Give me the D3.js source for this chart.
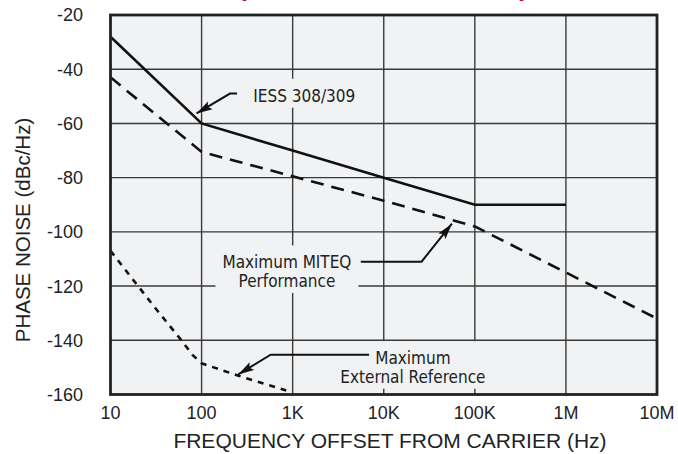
<!DOCTYPE html>
<html>
<head>
<meta charset="utf-8">
<script src="https://cdn.jsdelivr.net/npm/d3@7"></script>
<style>
  body { margin:0; background:#fff; }
  svg { display:block; }
  text { font-family: "Liberation Sans", Arial, sans-serif; fill:#222; }
  .note { font-family: "Liberation Sans Narrow", "DejaVu Sans Condensed", sans-serif; }
</style>
</head>
<body>
<div id="chart"></div>
<script>
// axis ticks
const freqTicks = [10, 100, 1e3, 1e4, 1e5, 1e6, 1e7];
const freqLabels = ["10", "100", "1K", "10K", "100K", "1M", "10M"];
const noiseTicks = [-20, -40, -60, -80, -100, -120, -140, -160];

// IESS 308/309 limit (solid)
const iessFreq  = [10, 100, 1e3, 1e4, 1e5, 1e6];
const iessNoise = [-28, -60, -70, -80, -90, -90];

// Maximum MITEQ performance (long dash)
const miteqFreq  = [10, 100, 1e3, 1e4, 1e5, 1e6, 1e7];
const miteqNoise = [-43, -70.5, -79.5, -88.5, -98, -115, -132];

// Maximum external reference (short dash)
const extFreq  = [10, 30, 60, 80, 100, 250, 850];
const extNoise = [-107, -127.5, -140, -145.5, -148.5, -153, -158.5];

const W = 678, H = 454;
const x = d3.scaleLog().domain([10, 1e7]).range([110.5, 657]);
const y = d3.scaleLinear().domain([-160, -20]).range([394.5, 15]);

const svg = d3.select("#chart").append("svg")
  .attr("width", W).attr("height", H);

// title sits above the picture, only the bracket tails show
svg.append("text")
  .attr("x", 238).attr("y", -3)
  .attr("textLength", 290).attr("lengthAdjust", "spacingAndGlyphs")
  .style("font-size", "20px").style("font-weight", "bold").style("fill", "#b8123a")
  .text("(PHASE NOISE LIMITS)");

svg.append("rect")
  .attr("x", x(10)).attr("y", y(-20))
  .attr("width", x(1e7) - x(10)).attr("height", y(-160) - y(-20))
  .attr("fill", "#f1f2f4");

// grid
const grid = svg.append("g").attr("stroke", "#3a3a3a").attr("stroke-width", 1.4);
grid.selectAll(".vx").data(freqTicks.slice(1, -1)).enter().append("line")
  .attr("x1", d => x(d)).attr("x2", d => x(d))
  .attr("y1", y(-20)).attr("y2", y(-160));
grid.selectAll(".hy").data(noiseTicks.slice(1, -1)).enter().append("line")
  .attr("x1", x(10)).attr("x2", x(1e7))
  .attr("y1", d => y(d)).attr("y2", d => y(d));

// curves
const line = d3.line().x(d => x(d[0])).y(d => y(d[1]));
const plot = svg.append("g").attr("fill", "none").attr("stroke", "#111").attr("stroke-width", 2.6);
plot.append("path").datum(d3.zip(iessFreq, iessNoise)).attr("d", line);
plot.append("path").datum(d3.zip(miteqFreq, miteqNoise)).attr("d", line)
  .attr("stroke-dasharray", "13,8");
plot.append("path").datum(d3.zip(extFreq, extNoise)).attr("d", line)
  .attr("stroke-dasharray", "6,6");

// annotations (points in data units)
const notes = [
  { lines: ["IESS  308/309"], at: [370, -52], anchor: "start",
    leader: [[245, -49], [205, -49], [88, -56.3]] },
  { lines: ["Maximum MITEQ", "Performance"], at: [865, -113.5], anchor: "middle",
    leader: [[5600, -111], [26000, -111], [56000, -97]] },
  { lines: ["Maximum", "External  Reference"], at: [20900, -148.8], anchor: "middle",
    leader: [[6900, -145.3], [573, -145.3], [253, -152.6]] }
];

svg.append("defs").append("marker")
  .attr("id", "arr").attr("viewBox", "0 0 16 10")
  .attr("refX", 16).attr("refY", 5)
  .attr("markerWidth", 16).attr("markerHeight", 10)
  .attr("markerUnits", "userSpaceOnUse").attr("orient", "auto")
  .append("path").attr("d", "M0,0.5 L16,5 L0,9.5 L3,5 Z").attr("fill", "#111");

notes.forEach(n => {
  const g = svg.append("g");
  const bg = g.append("rect").attr("fill", "#f1f2f4");
  const t = g.append("text").attr("class", "note")
    .attr("text-anchor", n.anchor)
    .style("font-size", "17px");
  n.lines.forEach((s, i) => {
    t.append("tspan").attr("x", x(n.at[0])).attr("y", y(n.at[1]) + i * 18.5).text(s);
  });
  const b = t.node().getBBox();
  bg.attr("x", b.x - 7).attr("y", b.y - 7).attr("width", b.width + 14).attr("height", b.height + 9);
  svg.append("path")
    .attr("d", d3.line()(n.leader.map(p => [x(p[0]), y(p[1])])))
    .attr("fill", "none").attr("stroke", "#111").attr("stroke-width", 2)
    .attr("marker-end", "url(#arr)");
});

// frame
svg.append("rect")
  .attr("x", x(10)).attr("y", y(-20))
  .attr("width", x(1e7) - x(10)).attr("height", y(-160) - y(-20))
  .attr("fill", "none").attr("stroke", "#222").attr("stroke-width", 2.8);

// axis labels
svg.selectAll(".xt").data(freqTicks).enter().append("text")
  .attr("x", d => x(d)).attr("y", 419)
  .attr("text-anchor", "middle").style("font-size", "18px")
  .text((d, i) => freqLabels[i]);

svg.selectAll(".yt").data(noiseTicks).enter().append("text")
  .attr("x", 83).attr("y", d => y(d)).attr("dy", "0.36em")
  .attr("text-anchor", "end").style("font-size", "18px")
  .text(d => d);

svg.append("text")
  .attr("x", 390).attr("y", 448)
  .attr("text-anchor", "middle").style("font-size", "21px")
  .text("FREQUENCY OFFSET FROM CARRIER (Hz)");

svg.append("text")
  .attr("transform", "translate(30,230) rotate(-90)")
  .attr("text-anchor", "middle").style("font-size", "20.5px")
  .text("PHASE NOISE (dBc/Hz)");
</script>
</body>
</html>
